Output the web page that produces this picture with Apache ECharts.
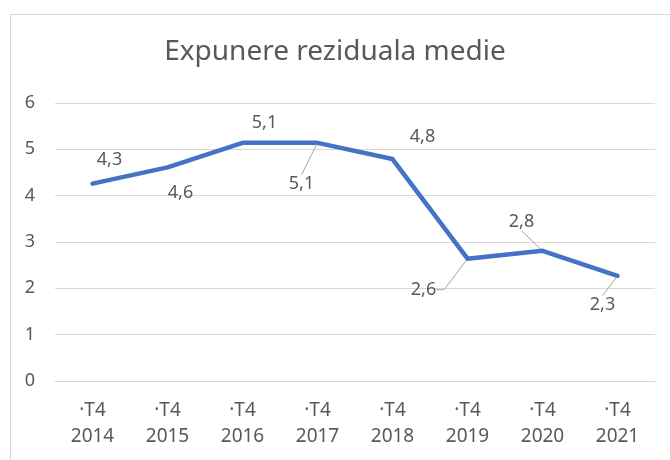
<!DOCTYPE html>
<html>
<head>
<meta charset="utf-8">
<script src="https://cdn.jsdelivr.net/npm/echarts@6/dist/echarts.min.js"></script>
<style>
  html, body { margin: 0; padding: 0; background: #ffffff; }
  #chart { width: 670px; height: 460px; }
</style>
</head>
<body>
<div id="chart"></div>
<script>
// Average residual exposure, Q4 of each year
const quarters = ['·T4', '·T4', '·T4', '·T4', '·T4', '·T4', '·T4', '·T4'];
const years = ['2014', '2015', '2016', '2017', '2018', '2019', '2020', '2021'];
const exposure = [4.26, 4.61, 5.14, 5.14, 4.79, 2.64, 2.81, 2.27];
const yTicks = [0, 1, 2, 3, 4, 5, 6];

// where each value label sits relative to its point, and whether it gets a leader line
const labelShift = [[17, -24], [13, 25], [22, -20], [-16, 41], [30, -22], [-44, 31], [-21, -29], [-15, 29]];
const leader = [false, false, false, true, false, true, true, true];

const categories = quarters.map((q, i) => q + '\n' + years[i]);
const textColor = '#595959';
const font = '"Noto Sans", "Open Sans", sans-serif';

const chart = echarts.init(document.getElementById('chart'), null, { renderer: 'canvas' });

chart.setOption({
  animation: false,
  backgroundColor: '#ffffff',
  graphic: [{
    type: 'rect',
    left: 8, top: 12,
    shape: { width: 700, height: 500 },
    style: { fill: 'none', stroke: '#d9d9d9', lineWidth: 1 },
    silent: true
  }],
  title: {
    text: 'Expunere reziduala medie',
    left: 'center',
    top: 33,
    textStyle: { fontFamily: font, fontSize: 28, fontWeight: 'normal', color: textColor }
  },
  grid: { left: 55, right: 15, top: 103, bottom: 79 },
  xAxis: {
    type: 'category',
    data: categories,
    boundaryGap: true,
    axisLine: { show: true, lineStyle: { color: '#d9d9d9', width: 1 } },
    axisTick: { show: false },
    axisLabel: {
      color: textColor, fontFamily: font, fontSize: 19,
      lineHeight: 26, margin: 17, interval: 0
    }
  },
  yAxis: {
    type: 'value',
    min: yTicks[0],
    max: yTicks[yTicks.length - 1],
    interval: 1,
    axisLine: { show: false },
    axisTick: { show: false },
    splitLine: { lineStyle: { color: '#d9d9d9', width: 1 } },
    axisLabel: { color: textColor, fontFamily: font, fontSize: 18, margin: 20 }
  },
  series: [{
    type: 'line',
    silent: true,
    symbol: 'circle',
    symbolSize: 3,
    itemStyle: { color: '#4472C4' },
    lineStyle: { color: '#4472C4', width: 4.5, join: 'round', cap: 'round' },
    data: exposure.map((v, i) => ({
      value: v,
      labelLine: {
        show: leader[i],
        length2: i === 5 ? 8 : 0,
        lineStyle: { color: '#a6a6a6', width: 1 }
      }
    })),
    label: {
      show: true,
      position: 'inside',
      color: textColor,
      fontFamily: font,
      fontSize: 18,
      formatter: p => p.value.toFixed(1).replace('.', ',')
    },
    labelLayout: p => ({ dx: labelShift[p.dataIndex][0], dy: labelShift[p.dataIndex][1] })
  }]
});
</script>
</body>
</html>
